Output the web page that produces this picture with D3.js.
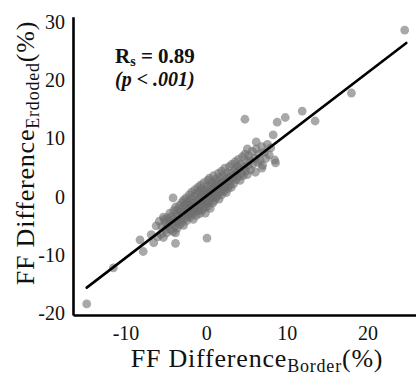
<!DOCTYPE html>
<html>
<head>
<meta charset="utf-8">
<script src="https://cdn.jsdelivr.net/npm/d3@7"></script>
<style>
  html, body { margin: 0; padding: 0; background: #fff; }
  svg { display: block; }
  text { font-family: "Liberation Serif", "DejaVu Serif", serif; fill: #111; }
</style>
</head>
<body>
<svg id="chart" width="416" height="377"></svg>
<script>
// Fat-fraction difference: border ROI (x) vs eroded ROI (y), in percent
const borderDiff = [
  24.6, 18.0, 11.9, 9.8, 8.8, 13.5, 4.8, 8.3, 6.2, 5.1, 8.5, 8.6, 6.9,
  -4.1, -5.3, -3.8, -3.8, 0.1, -7.8, -8.2, -11.5, -14.8,
  -6.8, -6.5, -6.2, -6.0, -5.8, -5.6, -5.5, -5.3, -5.2, -5.0, -5.0,
  -4.9, -4.8, -4.7, -4.6, -4.5, -4.4, -4.3, -4.2, -4.1, -4.0, -4.0, -3.9, -3.8, -3.8, -3.7, -3.6, -3.5, -3.5, -3.4, -3.3, -3.3, -3.2, -3.1, -3.0, -3.0,
  -2.9, -2.9, -2.8, -2.8, -2.7, -2.6, -2.6, -2.5, -2.5, -2.4, -2.4, -2.3, -2.3, -2.2, -2.1, -2.1, -2.0, -2.0, -1.9, -1.9, -1.8, -1.8, -1.7, -1.7, -1.6, -1.5, -1.5, -1.4, -1.4, -1.3, -1.3, -1.2, -1.2, -1.1, -1.0, -1.0,
  -0.9, -0.9, -0.8, -0.8, -0.7, -0.7, -0.6, -0.6, -0.5, -0.5, -0.4, -0.4, -0.3, -0.3, -0.2, -0.2, -0.1, -0.1, 0.0, 0.0, 0.1, 0.1, 0.2, 0.2, 0.3, 0.3, 0.4, 0.4, 0.5, 0.5, 0.6, 0.6, 0.7, 0.7, 0.8, 0.8, 0.9, 0.9,
  1.0, 1.0, 1.1, 1.1, 1.2, 1.2, 1.3, 1.4, 1.4, 1.5, 1.5, 1.6, 1.6, 1.7, 1.7, 1.8, 1.9, 1.9, 2.0, 2.0, 2.1, 2.2, 2.2, 2.3, 2.4, 2.4, 2.5, 2.6, 2.6, 2.7, 2.8, 2.9, 2.9,
  3.0, 3.1, 3.1, 3.2, 3.3, 3.4, 3.5, 3.5, 3.6, 3.7, 3.8, 3.9, 4.0, 4.0, 4.1, 4.2, 4.3, 4.4, 4.5, 4.6, 4.7, 4.8, 4.9, 5.0,
  5.1, 5.2, 5.3, 5.4, 5.5, 5.7, 5.8, 6.0, 6.1, 6.2, 6.4, 6.5, 6.7, 6.9, 7.0, 7.2, 7.4, 7.6, 7.8, 8.0
];
const erodedDiff = [
  28.6, 17.8, 14.7, 13.6, 12.8, 13.0, 13.3, 10.6, 9.4, 8.2, 6.3, 5.8, 4.9,
  -0.2, -3.5, -6.2, -8.0, -7.1, -9.4, -7.4, -12.2, -18.4,
  -6.5, -7.9, -5.0, -6.9, -4.2, -6.4, -5.1, -7.0, -3.9, -5.6, -4.4,
  -6.2, -3.6, -5.0, -4.1, -2.8, -5.6, -3.4, -4.6, -6.0, -2.4, -3.9, -5.1, -1.8, -4.3, -3.0, -5.4, -2.2, -4.0, -3.3, -1.5, -4.8, -2.7, -3.8, -1.0, -4.4,
  -2.0, -3.3, -0.6, -4.9, -2.6, -1.4, -3.7, -0.2, -2.9, -4.1, -1.9, -0.9, -3.2, -2.3, 0.3, -1.4, -3.5, -2.7, -0.4, -1.8, -3.0, 0.8, -2.2, -1.0, -3.9, 0.1, -1.6, -2.6, 1.2, -0.7, -2.0, -3.2, 0.5, -1.3, -2.4, 1.6,
  -0.2, -1.8, 0.9, -2.9, -0.9, 2.0, -1.5, 0.3, -2.3, 1.3, -0.5, -1.1, 2.4, 0.7, -1.9, -0.1, 1.0, -2.8, 0.4, -1.2, 1.8, -0.6, 2.8, -1.6, 0.2, 1.3, -0.9, 3.2, 0.8, -2.0, 1.9, -0.3, 0.5, 2.5, -1.1, 1.2, 3.6, 0.0,
  1.6, -0.7, 2.2, 0.6, 3.0, -0.2, 1.1, 2.6, 0.2, 4.0, 1.5, -0.4, 2.0, 3.3, 0.8, 1.9, 4.4, 0.3, 2.5, 1.2, 3.6, 0.9, 2.1, 4.9, 1.7, 3.0, 0.7, 2.6, 4.1, 1.4, 3.4, 2.0, 5.2,
  2.8, 4.0, 1.6, 5.6, 3.2, 2.2, 4.6, 3.7, 6.0, 2.9, 4.3, 5.2, 3.4, 6.4, 4.8, 2.8, 5.6, 4.0, 6.9, 3.6, 5.1, 7.3, 4.4, 6.0,
  3.8, 5.3, 7.0, 6.2, 4.6, 7.8, 5.6, 6.6, 4.2, 8.2, 5.9, 7.3, 6.2, 8.6, 5.4, 7.6, 6.6, 9.0, 7.2, 8.4
];

// Least-squares fit line end points
const fitX = [-14.8, 24.8];
const fitY = [-15.6, 26.4];

const xTicks = [-10, 0, 10, 20];
const yTicks = [-20, -10, 0, 10, 20, 30];

const svg = d3.select("#chart");

const x = d3.scaleLinear().domain([-16.5, 26.0]).range([73, 416]);
const y = d3.scaleLinear().domain([-20.3, 30.9]).range([315, 16.7]);

// soft edge on the markers
const defs = svg.append("defs");
defs.append("filter").attr("id", "soft")
  .append("feGaussianBlur").attr("stdDeviation", 0.6);

// scatter points
svg.append("g")
  .attr("filter", "url(#soft)")
  .selectAll("circle")
  .data(borderDiff.map((d, i) => [d, erodedDiff[i]]))
  .join("circle")
  .attr("cx", d => x(d[0]))
  .attr("cy", d => y(d[1]))
  .attr("r", 4.4)
  .attr("fill", "#6e6e6e")
  .attr("fill-opacity", 0.6);

// fit line
svg.append("line")
  .attr("x1", x(fitX[0])).attr("y1", y(fitY[0]))
  .attr("x2", x(fitX[1])).attr("y2", y(fitY[1]))
  .attr("stroke", "#000")
  .attr("stroke-width", 2.6)
  .attr("stroke-linecap", "round");

// axes
const xAxis = svg.append("g")
  .attr("transform", "translate(0,315)")
  .call(d3.axisBottom(x).tickValues(xTicks).tickSize(0).tickPadding(11).tickFormat(d => String(d)));
const yAxis = svg.append("g")
  .attr("transform", "translate(73,0)")
  .call(d3.axisLeft(y).tickValues(yTicks).tickSize(0).tickPadding(8).tickFormat(d => String(d)));

[xAxis, yAxis].forEach(g => {
  g.select(".domain").attr("stroke", "#000").attr("stroke-width", 2.6);
  g.selectAll("text")
    .attr("font-family", "'Liberation Serif', serif")
    .attr("font-size", 20)
    .attr("fill", "#111");
});

// correlation annotation
const ann = svg.append("text")
  .attr("x", 115).attr("y", 63)
  .attr("font-size", 21).attr("font-weight", "bold");
ann.append("tspan").text("R");
ann.append("tspan").attr("font-size", 14).attr("dy", 3).text("s");
ann.append("tspan").attr("dy", -3).text(" = 0.89");

svg.append("text")
  .attr("x", 115).attr("y", 86)
  .attr("font-size", 20).attr("font-weight", "bold").attr("font-style", "italic")
  .text("(p < .001)");

// axis titles
const xt = svg.append("text")
  .attr("x", 257).attr("y", 367)
  .attr("text-anchor", "middle")
  .attr("font-size", 26)
  .attr("letter-spacing", 0.8);
xt.append("tspan").text("FF Difference");
xt.append("tspan").attr("font-size", 18).attr("dy", 5).text("Border");
xt.append("tspan").attr("dy", -5).text("(%)");

const yt = svg.append("text")
  .attr("transform", "translate(34,153) rotate(-90)")
  .attr("text-anchor", "middle")
  .attr("font-size", 26)
  .attr("letter-spacing", 0.8);
yt.append("tspan").text("FF Difference");
yt.append("tspan").attr("font-size", 18).attr("dy", 5).text("Erdoded");
yt.append("tspan").attr("dy", -5).text("(%)");
</script>
</body>
</html>
